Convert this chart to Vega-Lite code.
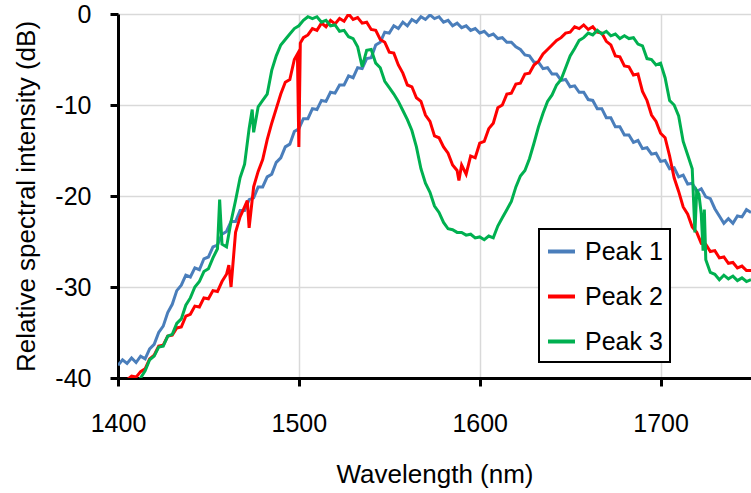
{
"$schema": "https://vega.github.io/schema/vega-lite/v6.json",
"width": 633, "height": 364,
"autosize": {"type": "none"},
"padding": {"left": 118, "top": 14, "right": 0, "bottom": 115},
"background": "white",
"config": {"view": {"stroke": null}, "font": "Liberation Sans"},
"data": {"values": [
{"w":1400,"Peak 1":-38.6,"Peak 2":-40.5,"Peak 3":-41},
{"w":1402.5,"Peak 1":-38.0,"Peak 2":-40.5,"Peak 3":-41},
{"w":1405,"Peak 1":-38.4,"Peak 2":-40.2,"Peak 3":-41},
{"w":1407.5,"Peak 1":-37.8,"Peak 2":-39.8,"Peak 3":-41},
{"w":1410,"Peak 1":-38.3,"Peak 2":-39.9,"Peak 3":-41},
{"w":1412.5,"Peak 1":-37.6,"Peak 2":-39.3,"Peak 3":-40.0},
{"w":1415,"Peak 1":-37.9,"Peak 2":-39.0,"Peak 3":-39.2},
{"w":1417.5,"Peak 1":-36.8,"Peak 2":-37.9,"Peak 3":-38.0},
{"w":1420,"Peak 1":-36.3,"Peak 2":-37.5,"Peak 3":-37.6},
{"w":1422.5,"Peak 1":-35.0,"Peak 2":-36.5,"Peak 3":-36.6},
{"w":1425,"Peak 1":-34.3,"Peak 2":-36.4,"Peak 3":-36.5},
{"w":1427.5,"Peak 1":-32.8,"Peak 2":-35.4,"Peak 3":-35.4},
{"w":1430,"Peak 1":-31.9,"Peak 2":-35.3,"Peak 3":-35.2},
{"w":1432.5,"Peak 1":-30.4,"Peak 2":-34.5,"Peak 3":-34.0},
{"w":1435,"Peak 1":-29.8,"Peak 2":-34.4,"Peak 3":-33.5},
{"w":1437.5,"Peak 1":-28.7,"Peak 2":-33.2,"Peak 3":-32.0},
{"w":1440,"Peak 1":-28.9,"Peak 2":-33.0,"Peak 3":-31.2},
{"w":1442.5,"Peak 1":-27.9,"Peak 2":-32.1,"Peak 3":-30.0},
{"w":1445,"Peak 1":-28.1,"Peak 2":-32.2,"Peak 3":-29.4},
{"w":1447.5,"Peak 1":-26.9,"Peak 2":-31.2,"Peak 3":-28.3},
{"w":1450,"Peak 1":-26.7,"Peak 2":-31.3,"Peak 3":-28.0},
{"w":1452.5,"Peak 1":-25.6,"Peak 2":-30.4,"Peak 3":-26.8},
{"w":1455,"Peak 1":-25.4,"Peak 2":-30.5,"Peak 3":-25.8},
{"w":1456.2,"Peak 3":-20.4},
{"w":1457.5,"Peak 1":-24.2,"Peak 2":-29.4,"Peak 3":-25.3},
{"w":1460,"Peak 1":-23.9,"Peak 2":-28.6,"Peak 3":-25.6},
{"w":1461.3,"Peak 2":-27.6},
{"w":1462.5,"Peak 1":-22.8,"Peak 2":-30.0,"Peak 3":-22.8},
{"w":1465,"Peak 1":-22.8,"Peak 2":-24.0,"Peak 3":-20.5},
{"w":1467.5,"Peak 1":-21.6,"Peak 2":-22.3,"Peak 3":-18.0},
{"w":1470,"Peak 1":-21.6,"Peak 2":-21.2,"Peak 3":-16.5},
{"w":1471.5,"Peak 2":-20.5},
{"w":1472.5,"Peak 1":-20.4,"Peak 2":-23.5,"Peak 3":-12.6},
{"w":1474.2,"Peak 3":-10.5},
{"w":1475,"Peak 1":-20.2,"Peak 2":-19.0,"Peak 3":-13.0},
{"w":1477.5,"Peak 1":-19.0,"Peak 2":-17.3,"Peak 3":-10.2},
{"w":1480,"Peak 1":-19.0,"Peak 2":-16.0,"Peak 3":-9.5},
{"w":1482.5,"Peak 1":-17.9,"Peak 2":-13.8,"Peak 3":-8.8},
{"w":1485,"Peak 1":-17.6,"Peak 2":-12.0,"Peak 3":-6.2},
{"w":1487.5,"Peak 1":-16.3,"Peak 2":-10.4,"Peak 3":-4.6},
{"w":1490,"Peak 1":-15.8,"Peak 2":-8.8,"Peak 3":-3.4},
{"w":1492.5,"Peak 1":-14.6,"Peak 2":-7.5,"Peak 3":-2.8},
{"w":1495,"Peak 1":-14.3,"Peak 2":-7.2,"Peak 3":-2.2},
{"w":1497.5,"Peak 1":-12.9,"Peak 2":-5.0,"Peak 3":-1.6},
{"w":1499.2,"Peak 2":-4.4},
{"w":1500,"Peak 1":-12.6,"Peak 2":-14.6,"Peak 3":-1.3},
{"w":1500.8,"Peak 2":-3.2},
{"w":1502.5,"Peak 1":-11.5,"Peak 2":-2.6,"Peak 3":-0.7},
{"w":1505,"Peak 1":-11.5,"Peak 2":-2.3,"Peak 3":-0.3},
{"w":1507.5,"Peak 1":-10.4,"Peak 2":-1.6,"Peak 3":-0.5},
{"w":1510,"Peak 1":-10.5,"Peak 2":-1.8,"Peak 3":-0.3},
{"w":1512.5,"Peak 1":-9.5,"Peak 2":-1.0,"Peak 3":-0.9},
{"w":1515,"Peak 1":-9.6,"Peak 2":-1.4,"Peak 3":-0.7},
{"w":1517.5,"Peak 1":-8.6,"Peak 2":-0.7,"Peak 3":-1.3},
{"w":1520,"Peak 1":-8.7,"Peak 2":-1.1,"Peak 3":-1.2},
{"w":1522.5,"Peak 1":-7.8,"Peak 2":-0.5,"Peak 3":-1.9},
{"w":1525,"Peak 1":-7.8,"Peak 2":-0.8,"Peak 3":-1.8},
{"w":1527.5,"Peak 1":-6.8,"Peak 2":0.0,"Peak 3":-2.5},
{"w":1530,"Peak 1":-7.0,"Peak 2":-0.6,"Peak 3":-2.7},
{"w":1532.5,"Peak 1":-5.9,"Peak 2":-0.4,"Peak 3":-3.6},
{"w":1535,"Peak 1":-6.0,"Peak 2":-1.0,"Peak 3":-5.8},
{"w":1537.5,"Peak 1":-4.9,"Peak 2":-0.9,"Peak 3":-4.0},
{"w":1540,"Peak 1":-4.8,"Peak 2":-1.7,"Peak 3":-3.9},
{"w":1542.5,"Peak 1":-3.4,"Peak 2":-1.8,"Peak 3":-5.4},
{"w":1545,"Peak 1":-3.1,"Peak 2":-2.8,"Peak 3":-5.9},
{"w":1547.5,"Peak 1":-2.0,"Peak 2":-3.1,"Peak 3":-7.4},
{"w":1550,"Peak 1":-2.1,"Peak 2":-4.2,"Peak 3":-8.1},
{"w":1552.5,"Peak 1":-1.3,"Peak 2":-4.3,"Peak 3":-8.8},
{"w":1555,"Peak 1":-1.6,"Peak 2":-5.6,"Peak 3":-9.6},
{"w":1557.5,"Peak 1":-0.9,"Peak 2":-6.5,"Peak 3":-10.6},
{"w":1560,"Peak 1":-1.3,"Peak 2":-7.8,"Peak 3":-11.6},
{"w":1562.5,"Peak 1":-0.6,"Peak 2":-8.0,"Peak 3":-12.8},
{"w":1565,"Peak 1":-0.9,"Peak 2":-9.2,"Peak 3":-14.6},
{"w":1567.5,"Peak 1":-0.3,"Peak 2":-9.6,"Peak 3":-17.0},
{"w":1570,"Peak 1":-0.6,"Peak 2":-11.1,"Peak 3":-18.6},
{"w":1572.5,"Peak 1":-0.1,"Peak 2":-11.8,"Peak 3":-19.6},
{"w":1575,"Peak 1":-0.5,"Peak 2":-13.4,"Peak 3":-21.1},
{"w":1577.5,"Peak 1":-0.3,"Peak 2":-13.6,"Peak 3":-21.8},
{"w":1580,"Peak 1":-0.9,"Peak 2":-14.6,"Peak 3":-22.9},
{"w":1582.5,"Peak 1":-0.7,"Peak 2":-15.3,"Peak 3":-23.6},
{"w":1585,"Peak 1":-1.3,"Peak 2":-16.6,"Peak 3":-23.7},
{"w":1587.5,"Peak 1":-1.0,"Peak 2":-17.2,"Peak 3":-24.0},
{"w":1588.5,"Peak 2":-18.3},
{"w":1590,"Peak 1":-1.5,"Peak 2":-16.6,"Peak 3":-24.0},
{"w":1592.5,"Peak 1":-1.3,"Peak 2":-17.6,"Peak 3":-24.3},
{"w":1595,"Peak 1":-1.8,"Peak 2":-15.6,"Peak 3":-24.2},
{"w":1597.5,"Peak 1":-1.6,"Peak 2":-15.8,"Peak 3":-24.6},
{"w":1600,"Peak 1":-2.1,"Peak 2":-14.2,"Peak 3":-24.5},
{"w":1602.5,"Peak 1":-1.9,"Peak 2":-14.0,"Peak 3":-24.8},
{"w":1605,"Peak 1":-2.4,"Peak 2":-12.6,"Peak 3":-24.4},
{"w":1607.5,"Peak 1":-2.2,"Peak 2":-12.0,"Peak 3":-24.6},
{"w":1610,"Peak 1":-2.7,"Peak 2":-10.3,"Peak 3":-23.3},
{"w":1612.5,"Peak 1":-2.6,"Peak 2":-10.0,"Peak 3":-22.4},
{"w":1615,"Peak 1":-3.1,"Peak 2":-8.8,"Peak 3":-21.5},
{"w":1617.5,"Peak 1":-3.1,"Peak 2":-8.7,"Peak 3":-20.6},
{"w":1620,"Peak 1":-3.6,"Peak 2":-7.7,"Peak 3":-19.0},
{"w":1622.5,"Peak 1":-3.9,"Peak 2":-7.6,"Peak 3":-17.8},
{"w":1625,"Peak 1":-4.5,"Peak 2":-6.6,"Peak 3":-17.2},
{"w":1627.5,"Peak 1":-4.6,"Peak 2":-6.5,"Peak 3":-15.9},
{"w":1630,"Peak 1":-5.3,"Peak 2":-5.6,"Peak 3":-14.2},
{"w":1632.5,"Peak 1":-5.3,"Peak 2":-5.2,"Peak 3":-12.4},
{"w":1635,"Peak 1":-6.0,"Peak 2":-4.4,"Peak 3":-10.9},
{"w":1637.5,"Peak 1":-5.9,"Peak 2":-3.9,"Peak 3":-9.6},
{"w":1640,"Peak 1":-6.6,"Peak 2":-3.4,"Peak 3":-8.9},
{"w":1642.5,"Peak 1":-6.6,"Peak 2":-2.9,"Peak 3":-7.8},
{"w":1645,"Peak 1":-7.3,"Peak 2":-2.6,"Peak 3":-7.2},
{"w":1647.5,"Peak 1":-7.2,"Peak 2":-2.1,"Peak 3":-5.9},
{"w":1650,"Peak 1":-8.0,"Peak 2":-2.0,"Peak 3":-4.6},
{"w":1652.5,"Peak 1":-7.9,"Peak 2":-1.4,"Peak 3":-3.8},
{"w":1655,"Peak 1":-8.6,"Peak 2":-1.6,"Peak 3":-2.9},
{"w":1657.5,"Peak 1":-8.6,"Peak 2":-1.2,"Peak 3":-2.6},
{"w":1660,"Peak 1":-9.4,"Peak 2":-1.7,"Peak 3":-2.1},
{"w":1662.5,"Peak 1":-9.5,"Peak 2":-1.4,"Peak 3":-2.3},
{"w":1665,"Peak 1":-10.4,"Peak 2":-2.0,"Peak 3":-1.8},
{"w":1667.5,"Peak 1":-10.4,"Peak 2":-2.1,"Peak 3":-2.2},
{"w":1670,"Peak 1":-11.4,"Peak 2":-3.0,"Peak 3":-1.9},
{"w":1672.5,"Peak 1":-11.4,"Peak 2":-3.4,"Peak 3":-2.4},
{"w":1675,"Peak 1":-12.4,"Peak 2":-4.6,"Peak 3":-2.2},
{"w":1677.5,"Peak 1":-12.4,"Peak 2":-4.7,"Peak 3":-2.7},
{"w":1680,"Peak 1":-13.3,"Peak 2":-5.7,"Peak 3":-2.4},
{"w":1682.5,"Peak 1":-13.3,"Peak 2":-5.8,"Peak 3":-2.7},
{"w":1685,"Peak 1":-14.1,"Peak 2":-6.7,"Peak 3":-2.6},
{"w":1687.5,"Peak 1":-13.9,"Peak 2":-6.6,"Peak 3":-3.3},
{"w":1690,"Peak 1":-14.8,"Peak 2":-8.5,"Peak 3":-3.5},
{"w":1692.5,"Peak 1":-14.7,"Peak 2":-9.5,"Peak 3":-4.9},
{"w":1695,"Peak 1":-15.4,"Peak 2":-11.1,"Peak 3":-5.0},
{"w":1697.5,"Peak 1":-15.3,"Peak 2":-11.8,"Peak 3":-5.6},
{"w":1700,"Peak 1":-16.2,"Peak 2":-13.1,"Peak 3":-5.4},
{"w":1702.5,"Peak 1":-16.1,"Peak 2":-13.6,"Peak 3":-7.0},
{"w":1705,"Peak 1":-17.0,"Peak 2":-15.6,"Peak 3":-9.5},
{"w":1707.5,"Peak 1":-16.9,"Peak 2":-18.0,"Peak 3":-10.0},
{"w":1710,"Peak 1":-17.9,"Peak 2":-19.5,"Peak 3":-11.2},
{"w":1712.5,"Peak 1":-17.7,"Peak 2":-21.2,"Peak 3":-14.0},
{"w":1715,"Peak 1":-18.7,"Peak 2":-22.0,"Peak 3":-15.5},
{"w":1717.5,"Peak 1":-18.6,"Peak 2":-23.4,"Peak 3":-17.0},
{"w":1719,"Peak 3":-24.0},
{"w":1720,"Peak 1":-19.5,"Peak 2":-24.0,"Peak 3":-19.4},
{"w":1721.2,"Peak 3":-19.8},
{"w":1722.5,"Peak 1":-19.2,"Peak 2":-25.2,"Peak 3":-22.0},
{"w":1723.5,"Peak 3":-26.0},
{"w":1724.2,"Peak 3":-21.5},
{"w":1725,"Peak 1":-20.1,"Peak 2":-25.3,"Peak 3":-27.0},
{"w":1727.5,"Peak 1":-20.3,"Peak 2":-26.1,"Peak 3":-28.4},
{"w":1730,"Peak 1":-21.4,"Peak 2":-26.0,"Peak 3":-28.6},
{"w":1732.5,"Peak 1":-22.2,"Peak 2":-26.8,"Peak 3":-29.2},
{"w":1735,"Peak 1":-23.0,"Peak 2":-26.7,"Peak 3":-28.7},
{"w":1737.5,"Peak 1":-22.5,"Peak 2":-27.4,"Peak 3":-29.1},
{"w":1740,"Peak 1":-23.0,"Peak 2":-27.3,"Peak 3":-28.8},
{"w":1742.5,"Peak 1":-22.2,"Peak 2":-27.9,"Peak 3":-29.3},
{"w":1745,"Peak 1":-22.3,"Peak 2":-27.7,"Peak 3":-29.0},
{"w":1747.5,"Peak 1":-21.5,"Peak 2":-28.2,"Peak 3":-29.4},
{"w":1750,"Peak 1":-21.8,"Peak 2":-28.2,"Peak 3":-29.2}
]},
"transform": [
  {"fold": ["Peak 1", "Peak 2", "Peak 3"], "as": ["series", "value"]},
  {"filter": "isValid(datum.value)"}
],
"mark": {"type": "line", "strokeWidth": 3, "clip": true},
"encoding": {
  "x": {"field": "w", "type": "quantitative",
    "scale": {"domain": [1400, 1750], "nice": false, "zero": false},
    "axis": {"title": "Wavelength (nm)", "values": [1400, 1500, 1600, 1700], "format": "d",
      "labelFontSize": 25, "titleFontSize": 26, "titleFontWeight": "normal",
      "labelColor": "black", "titleColor": "black", "domainColor": "black", "domainWidth": 3,
      "tickColor": "black", "tickWidth": 3, "tickSize": 8, "labelPadding": 25,
      "gridColor": "#d9d9d9", "gridWidth": 1.5, "titleY": 104, "titleBaseline": "alphabetic", "labelFlush": false}},
  "y": {"field": "value", "type": "quantitative",
    "scale": {"domain": [-40, 0], "nice": false},
    "axis": {"title": "Relative spectral intensity (dB)", "values": [-40, -30, -20, -10, 0],
      "labelExpr": "'' + datum.value",
      "labelFontSize": 25, "titleFontSize": 26, "titleFontWeight": "normal",
      "labelColor": "black", "titleColor": "black", "domainColor": "black", "domainWidth": 3,
      "tickColor": "black", "tickWidth": 3, "tickSize": 8, "labelPadding": 19,
      "gridColor": "#d9d9d9", "gridWidth": 1.5,
      "titleX": -84, "titleY": 182, "titleAngle": 270, "titleAlign": "center", "titleBaseline": "alphabetic"}},
  "color": {"field": "series", "type": "nominal",
    "scale": {"domain": ["Peak 1", "Peak 2", "Peak 3"], "range": ["#4a7ebb", "#ff0000", "#00b050"]},
    "legend": {"title": null, "orient": "none", "legendX": 421, "legendY": 215,
      "symbolType": "stroke", "symbolStrokeWidth": 4, "symbolSize": 729,
      "labelFontSize": 25, "labelColor": "black", "labelOffset": 8, "rowPadding": 16,
      "padding": 7, "strokeColor": "black", "fillColor": "white", "labelLimit": 200,
      "encode": {"legend": {"update": {"strokeWidth": {"value": 2}}}}}}
}
}
